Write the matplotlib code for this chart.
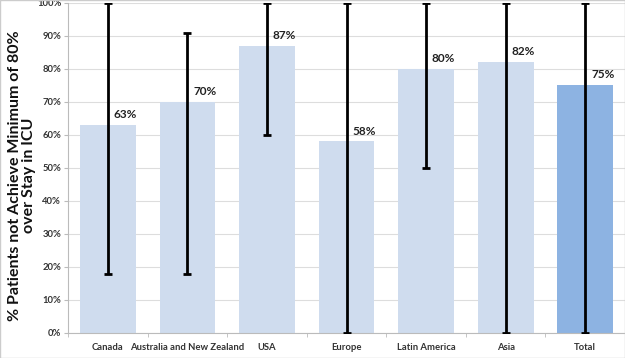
import matplotlib.pyplot as plt
import numpy as np

plt.rcParams['font.family'] = ['Lato', 'DejaVu Sans']

categories = ['Canada', 'Australia and New Zealand', 'USA', 'Europe',
              'Latin America', 'Asia', 'Total']
values = [63, 70, 87, 58, 80, 82, 75]
err_low = [18, 18, 60, 0, 50, 0, 0]
err_high = [100, 91, 100, 100, 100, 100, 100]

colors = ['#cfdcee'] * 6 + ['#8db3e2']

fig = plt.figure(figsize=(6.25, 3.58), dpi=100)
ax = fig.add_axes([0.109, 0.07, 0.891, 0.922])

x = np.arange(len(categories))
ax.bar(x, values, width=0.7, color=colors, zorder=2)

yerr = [np.array(values) - np.array(err_low), np.array(err_high) - np.array(values)]
ax.errorbar(x, values, yerr=yerr, fmt='none', ecolor='black', elinewidth=2,
            capsize=3, capthick=2, zorder=3)

for xi, v in zip(x, values):
    ax.text(xi + 0.22, v + 1.5, f'{v}%', ha='center', va='bottom',
            fontsize=8.5, fontweight='bold', color='#222222', zorder=4)

ax.set_xlim(-0.5, len(categories) - 0.5)
ax.set_ylim(0, 100)
ax.set_yticks(range(0, 101, 10))
ax.set_yticklabels([f'{t}%' for t in range(0, 101, 10)])
ax.set_xticks(x)
ax.set_xticklabels(categories)
ax.tick_params(axis='both', labelsize=6.8, colors='#333333')
for lab in ax.get_xticklabels() + ax.get_yticklabels():
    lab.set_fontweight('bold')
ax.tick_params(axis='x', length=0, pad=7)
ax.tick_params(axis='y', length=3, color='#bbbbbb', pad=2)
ax.set_xticks(np.arange(-0.5, len(categories)), minor=True)
ax.tick_params(axis='x', which='minor', length=3, color='#bbbbbb')

ax.grid(axis='y', color='#dddddd', linewidth=0.8, zorder=0)
for side in ['top', 'right']:
    ax.spines[side].set_visible(False)
ax.spines['left'].set_color('#bbbbbb')
ax.spines['bottom'].set_color('#bbbbbb')

fig.text(0.036, 0.51, '% Patients not Achieve Minimum of 80%\nover Stay in ICU',
         rotation=90, ha='center', va='center', fontsize=11.5,
         fontweight='bold', linespacing=1.0, color='#111111')

fig.patches.append(plt.Rectangle((0, 0), 1, 1, transform=fig.transFigure,
                                 fill=False, edgecolor='#cccccc', linewidth=1))

fig.savefig('out.png', dpi=100)
